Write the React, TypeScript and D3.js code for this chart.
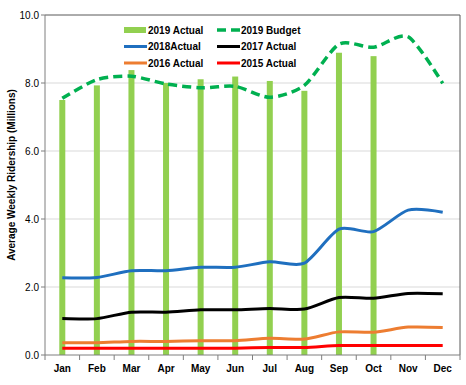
import React from "react";
import * as d3 from "d3";

const months = ["Jan","Feb","Mar","Apr","May","Jun","Jul","Aug","Sep","Oct","Nov","Dec"];
const actual2019 = [7.5, 7.93, 8.38, 8.0, 8.11, 8.19, 8.06, 7.77, 8.89, 8.79];
const budget2019 = [7.55, 8.1, 8.2, 7.97, 7.86, 7.9, 7.58, 7.93, 9.14, 9.05, 9.36, 7.99];
const actual2018 = [2.27, 2.28, 2.48, 2.48, 2.58, 2.58, 2.74, 2.7, 3.7, 3.63, 4.26, 4.2];
const actual2017 = [1.07, 1.07, 1.26, 1.26, 1.33, 1.33, 1.37, 1.35, 1.69, 1.67, 1.81, 1.8];
const actual2016 = [0.36, 0.36, 0.4, 0.4, 0.42, 0.42, 0.49, 0.47, 0.68, 0.67, 0.82, 0.81];
const actual2015 = [0.2, 0.2, 0.2, 0.2, 0.2, 0.2, 0.22, 0.22, 0.28, 0.28, 0.28, 0.28];
const yTicks = [0, 2, 4, 6, 8, 10];

const W = 466, H = 385;
const L = 45, R = 460, T = 15, B = 355;
const font = "Arial, 'Liberation Sans', sans-serif";

export default function App() {
  const x = d3.scaleBand<string>().domain(months).range([L, R]);
  const y = d3.scaleLinear().domain([0, 10]).range([B, T]);
  const cx = (i: number) => (x(months[i]) as number) + x.bandwidth() / 2;
  const line = d3.line<number>().x((_, i) => cx(i)).y((d) => y(d)).curve(d3.curveCardinal.tension(0.25));

  const series = [
    { data: actual2018, color: "#1F6FBF", w: 3 },
    { data: actual2017, color: "#000000", w: 3 },
    { data: actual2016, color: "#ED7D31", w: 3 },
    { data: actual2015, color: "#FF0000", w: 3 },
  ];
  const bounds = d3.range(13).map((i) => L + i * x.step());

  const legend = [
    { label: "2019 Actual", type: "bar", color: "#92D050", col: 0, row: 0 },
    { label: "2019 Budget", type: "dash", color: "#00B050", col: 1, row: 0 },
    { label: "2018Actual", type: "line", color: "#1F6FBF", col: 0, row: 1 },
    { label: "2017 Actual", type: "line", color: "#000000", col: 1, row: 1 },
    { label: "2016 Actual", type: "line", color: "#ED7D31", col: 0, row: 2 },
    { label: "2015 Actual", type: "line", color: "#FF0000", col: 1, row: 2 },
  ];

  return (
    <svg width={W} height={H} style={{ position: "absolute", left: 0, top: 0 }} fontFamily={font}>
      <rect x={0} y={0} width={W} height={H} fill="#fff" />
      {yTicks.filter((t) => t > 0 && t < 10).map((t) => (
        <line key={t} x1={L} x2={R} y1={y(t)} y2={y(t)} stroke="#d9d9d9" strokeWidth={1} />
      ))}
      {actual2019.map((v, i) => (
        <rect key={i} x={cx(i) - 3} y={y(v)} width={6} height={B - y(v)} fill="#92D050" />
      ))}
      {series.map((s, k) => (
        <path key={k} d={line(s.data) as string} fill="none" stroke={s.color} strokeWidth={s.w} strokeLinejoin="round" />
      ))}
      <path d={line(budget2019) as string} fill="none" stroke="#00B050" strokeWidth={3.5} strokeDasharray="9,5" />
      {/* frame */}
      <line x1={L} x2={R} y1={T} y2={T} stroke="#595959" strokeWidth={1} />
      <line x1={R} x2={R} y1={T} y2={B} stroke="#595959" strokeWidth={1} />
      <line x1={L} x2={L} y1={T} y2={B} stroke="#7f7f7f" strokeWidth={1} />
      <line x1={L} x2={R} y1={B} y2={B} stroke="#7f7f7f" strokeWidth={1} />
      {bounds.map((b, i) => (
        <line key={i} x1={b} x2={b} y1={B} y2={B + 5} stroke="#7f7f7f" strokeWidth={1} />
      ))}
      {yTicks.map((t) => (
        <g key={t}>
          <line x1={L - 4} x2={L} y1={y(t)} y2={y(t)} stroke="#7f7f7f" strokeWidth={1} />
          <text x={L - 6} y={y(t)} dy="0.35em" textAnchor="end" fontSize={10} fill="#000">{t.toFixed(1)}</text>
        </g>
      ))}
      {months.map((m, i) => (
        <text key={m} x={cx(i)} y={B + 17} textAnchor="middle" fontSize={10} fontWeight="bold" fill="#000">{m}</text>
      ))}
      <text transform={`translate(15,175) rotate(-90)`} textAnchor="middle" fontSize={10} fontWeight="bold" fill="#000">
        Average Weekly Ridership (Millions)
      </text>
      {legend.map((l, i) => {
        const x0 = l.col === 0 ? 124 : 217;
        const yy = 30 + l.row * 16.5;
        return (
          <g key={i}>
            {l.type === "bar" && <rect x={x0} y={yy - 3} width={22} height={6} fill={l.color} />}
            {l.type === "dash" && <line x1={x0} x2={x0 + 23} y1={yy} y2={yy} stroke={l.color} strokeWidth={3.5} strokeDasharray="9,5" />}
            {l.type === "line" && <line x1={x0} x2={x0 + 23} y1={yy} y2={yy} stroke={l.color} strokeWidth={3} />}
            <text x={x0 + 24} y={yy} dy="0.35em" fontSize={10} fontWeight="bold" fill="#000">{l.label}</text>
          </g>
        );
      })}
    </svg>
  );
}
